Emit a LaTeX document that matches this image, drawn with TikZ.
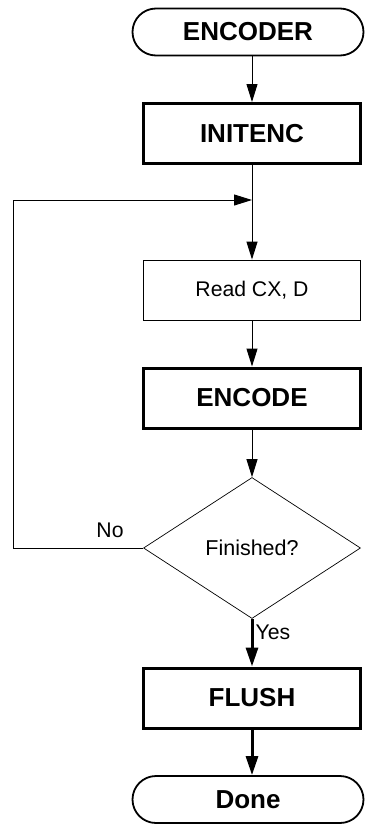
\documentclass[tikz,border=0pt]{standalone}
\usepackage{fontspec}
\setmainfont{Liberation Sans}
\usepackage{tikz}
\usetikzlibrary{arrows.meta,shapes.geometric,shapes.misc,positioning}

\begin{document}
\begin{tikzpicture}[x=1pt, y=-1pt]
			\tikzstyle{Terminal}	= [rounded rectangle, draw, line width=1.8pt, minimum width=231pt, minimum height=47pt, inner sep=0pt, font=\fontsize{26}{30}\selectfont\bfseries]
			\tikzstyle{Process}	= [rectangle, draw, line width=0.9pt, minimum width=217pt, minimum height=60pt, inner sep=0pt, font=\fontsize{21.2}{25}\selectfont]
			\tikzstyle{Routine}	= [Process, line width=3pt, font=\fontsize{26}{30}\selectfont\bfseries]
			\tikzstyle{Decision}	= [diamond, draw, line width=0.7pt, minimum width=217pt, minimum height=141pt, inner sep=0pt, font=\fontsize{21.5}{25}\selectfont]
			\tikzstyle{Flow}	= [line width=1pt, -{Triangle[length=18pt, width=11pt]}]
			\tikzstyle{FlowBold}	= [line width=3pt, -{Triangle[length=19pt, width=12pt]}]
			\tikzstyle{Tag}	= [font=\fontsize{21.2}{25}\selectfont, inner sep=0pt]

			\useasboundingbox (0,0) rectangle (366,825);

			\node (encoder) at (248,32) [Terminal] {ENCODER};
			\node (initenc) at (252,133.5) [Routine] {INITENC};
			\coordinate (join) at (252,200);
			\node (read) at (252,290) [Process] {Read CX, D};
			\node (encode) at (252,398) [Routine] {ENCODE};
			\node (finished) at (252,548) [Decision] {Finished?};
			\node (flush) at (252,698) [Routine] {FLUSH};
			\node (done) at (248,799.5) [Terminal] {Done};
			\coordinate (back) at (13,548);

			\node (yes) at (273,632) [Tag] {Yes};
			\node (no) at (110,530) [Tag] {No};

			\draw [Flow] (encoder.south -| initenc) to (initenc);
			\draw [line width=1pt] (initenc) to (join);
			\draw [Flow] (join) to (read);
			\draw [Flow] (read) to (encode);
			\draw [Flow] (encode) to (finished);
			\draw [Flow] (finished.west) -- (back) |- (join);
			\draw [FlowBold] (finished) to (flush);
			\draw [FlowBold] (flush) to (done.north -| flush);
		\end{tikzpicture}
\end{document}
